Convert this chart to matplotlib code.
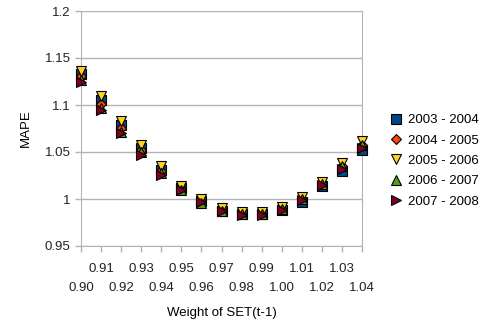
import matplotlib
matplotlib.use("Agg")
import matplotlib.pyplot as plt
import numpy as np

plt.rcParams['font.family'] = ['Liberation Sans', 'DejaVu Sans']

weights = [0.90, 0.91, 0.92, 0.93, 0.94, 0.95, 0.96, 0.97, 0.98, 0.99, 1.00, 1.01, 1.02, 1.03, 1.04]
tick_labels = ["0.90", "0.91", "0.92", "0.93", "0.94", "0.95", "0.96", "0.97",
               "0.98", "0.99", "1.00", "1.01", "1.02", "1.03", "1.04"]

y0304 = [1.133, 1.105, 1.079, 1.054, 1.031, 1.012, 0.998, 0.987, 0.984, 0.984, 0.988, 0.997, 1.014, 1.030, 1.052]
y0405 = [1.131, 1.101, 1.076, 1.052, 1.030, 1.011, 0.998, 0.988, 0.984, 0.984, 0.989, 1.000, 1.016, 1.035, 1.057]
y0506 = [1.136, 1.110, 1.083, 1.057, 1.035, 1.014, 1.000, 0.990, 0.986, 0.986, 0.991, 1.002, 1.018, 1.038, 1.062]
y0607 = [1.127, 1.097, 1.071, 1.050, 1.028, 1.010, 0.996, 0.987, 0.984, 0.984, 0.989, 1.000, 1.016, 1.035, 1.057]
y0708 = [1.125, 1.095, 1.070, 1.047, 1.026, 1.010, 0.997, 0.987, 0.983, 0.983, 0.988, 0.999, 1.015, 1.032, 1.054]

series = [
    ("2003 - 2004", y0304, "s", "#004586", 6.5),
    ("2004 - 2005", y0405, "D", "#ff420e", 5),
    ("2005 - 2006", y0506, "v", "#ffd320", 7.5),
    ("2006 - 2007", y0607, "^", "#579d1c", 7.5),
    ("2007 - 2008", y0708, ">", "#7e0021", 7.5),
]

fig = plt.figure(figsize=(4.96, 3.26), dpi=100)
ax = fig.add_axes([81 / 496, 1 - 246 / 326, (362 - 81) / 496, (246 - 11) / 326])

x = np.arange(len(weights))
for name, vals, mk, col, ms in series:
    ax.plot(x, vals, linestyle="none", marker=mk, color=col, markersize=ms,
            markeredgecolor="black", markeredgewidth=0.8, label=name, clip_on=False, zorder=3)

grid = "#b3b3b3"
ax.set_xlim(0, len(weights) - 1)
ax.set_ylim(0.95, 1.2)
ax.set_yticks([0.95, 1.0, 1.05, 1.1, 1.15, 1.2])
ax.set_yticklabels(["0.95", "1", "1.05", "1.1", "1.15", "1.2"])

# staggered category labels: odd ones on the upper row, even ones below
ax.set_xticks(x[1::2], minor=True)
ax.set_xticklabels(tick_labels[1::2], minor=True)
ax.set_xticks(x[0::2])
ax.set_xticklabels(tick_labels[0::2])

ax.yaxis.grid(True, color=grid, linewidth=1)
ax.set_axisbelow(True)
for s in ["left", "right", "bottom"]:
    ax.spines[s].set_color(grid)
ax.spines["top"].set_visible(False)
ax.tick_params(axis="both", which="both", colors=grid, labelcolor="#222222", labelsize=9.5, length=4.5, width=1)
ax.tick_params(axis="x", which="minor", pad=8)
ax.tick_params(axis="x", which="major", pad=21.5)
ax.tick_params(axis="y", pad=3)

ax.set_xlabel("Weight of SET(t-1)", fontsize=9.5, labelpad=9)
ax.set_ylabel("MAPE", fontsize=9.5, labelpad=9)

ax.legend(loc="upper left", bbox_to_anchor=(391 / 496, 1 - 114 / 326), bbox_transform=fig.transFigure,
          frameon=False, fontsize=9.5, handlelength=0.8, handletextpad=0.5, labelspacing=0.62,
          borderpad=0, borderaxespad=0)

fig.savefig("out.png", dpi=100)
